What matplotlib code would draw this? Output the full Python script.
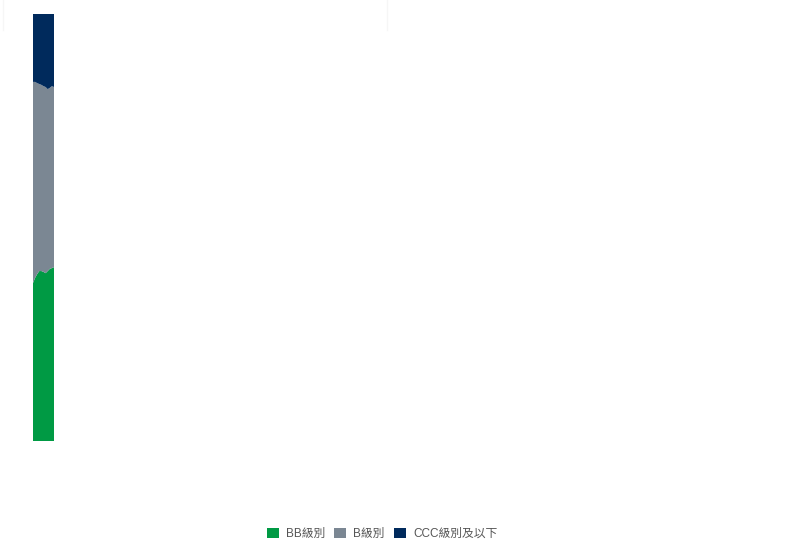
import matplotlib
matplotlib.use('Agg')
import matplotlib.pyplot as plt
from matplotlib.patches import Patch
import numpy as np

# Share of each rating bucket (%)
periods = list(range(11))
bb_share = [37.0, 38.2, 39.1, 39.8, 39.8, 39.6, 39.3, 39.8, 40.3, 40.5, 40.7]
ccc_share = [15.9, 15.9, 16.2, 16.4, 16.6, 16.9, 17.1, 17.6, 17.3, 16.9, 17.1]
b_share = [100 - g - c for g, c in zip(bb_share, ccc_share)]

labels = ['BB級別', 'B級別', 'CCC級別及以下']
colors = ['#009a44', '#7b8793', '#002a5c']

plt.rcParams['font.family'] = ['Liberation Sans', 'Noto Sans CJK TC', 'DejaVu Sans']

fig = plt.figure(figsize=(8, 5.58), dpi=100)

# faint panel borders at the top
line_ax = fig.add_axes([0, 0, 1, 1])
line_ax.set_xlim(0, 800)
line_ax.set_ylim(558, 0)
line_ax.axis('off')
line_ax.plot([3, 3], [0, 30], color='#f6f6f6', lw=1)
line_ax.plot([387, 387], [0, 30], color='#f6f6f6', lw=1)

ax = fig.add_axes([33 / 800, (558 - 441) / 558, 21 / 800, 427 / 558])
ax.stackplot(periods, bb_share, b_share, ccc_share, colors=colors, lw=0)
ax.set_xlim(periods[0], periods[-1])
ax.set_ylim(0, 100)
ax.axis('off')

handles = [Patch(facecolor=c, edgecolor='none') for c in colors]
fig.legend(handles, labels, loc='center', bbox_to_anchor=(382 / 800, 1 - 534 / 558),
           ncol=3, frameon=False, fontsize=8.5, labelcolor='#555555',
           handlelength=1.0, handleheight=1.0, handletextpad=0.6, columnspacing=0.8)

fig.savefig('out.png', dpi=100)
